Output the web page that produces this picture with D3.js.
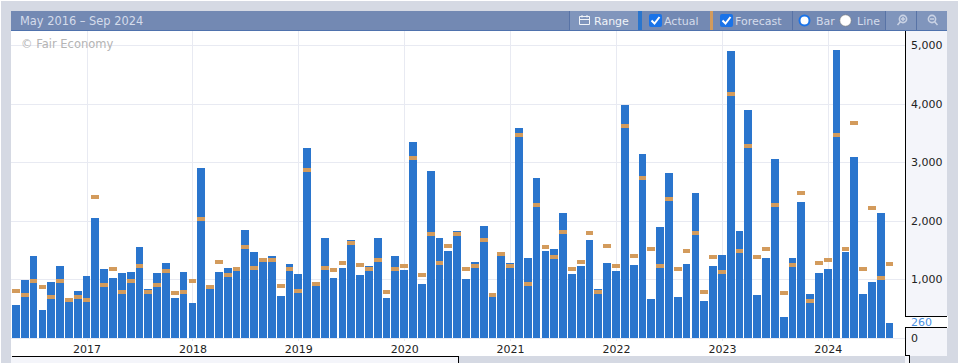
<!DOCTYPE html>
<html>
<head>
<meta charset="utf-8">
<script src="https://cdn.jsdelivr.net/npm/d3@7"></script>
<style>
html,body{margin:0;padding:0;background:#fff;overflow:hidden}
svg{display:block;font-family:"DejaVu Sans",sans-serif}
</style>
</head>
<body>
<script>
const rangeLabel="May 2016 – Sep 2024";
const yTicks=[0,1000,2000,3000,4000,5000];
const yearStarts=[2017,2018,2019,2020,2021,2022,2023,2024];

// May 2016 .. Aug 2024
const actual=[564,990,1400,478,956,1230,615,803,
1059,2050,1178,1025,1110,1127,1554,837,1110,1281,683,1127,
598,2903,837,1127,1196,1144,1845,1469,1298,1400,717,1264,
1093,3245,888,1708,1025,1196,1674,1076,1230,1708,683,1400,
1161,3347,922,2852,1708,1486,1827,1008,1298,1913,700,1400,
1281,3587,1366,2733,1486,1520,2135,1093,1230,1674,837,1281,
1144,3980,1247,3137,660,1890,2812,695,1258,2471,626,1224,
1412,4896,1822,3888,729,1361,3051,353,1361,2317,746,1104,
1173,4913,1463,3086,746,951,2129,260];
const forecast=[803,734,973,871,700,973,649,700,
649,2408,905,1178,786,973,1230,786,905,1144,769,786,
973,2032,871,1298,1076,1178,1554,1196,1332,1332,888,1178,
803,2869,922,1196,1161,1281,1622,1247,1178,1332,786,1178,
1230,3074,1076,1776,1281,1571,1776,1178,1230,1674,734,1435,
1230,3467,922,2271,1554,1383,1810,1178,1298,1793,786,1571,
1230,3621,1400,2727,1514,1224,2368,1173,1480,1788,780,1378,
1122,4162,1480,3274,1378,1514,2266,763,1241,2471,626,1275,
1326,3461,1514,3666,1173,2215,1019,1258];

const months=d3.timeMonth.range(new Date(2016,4,1),new Date(2024,9,1));
const jans=yearStarts.map(y=>new Date(y,0,1));

const W=958,H=363;
const svg=d3.select("body").append("svg").attr("width",W).attr("height",H);

const x=d3.scaleBand().domain(months).range([12,903.3]).paddingInner(0.12).paddingOuter(0.06);
const y=d3.scaleLinear().domain([0,5000]).range([338,45]);

// 背景
svg.append("rect").attr("x",1).attr("y",1).attr("width",W).attr("height",H).attr("fill","#d5d9e3");
svg.append("rect").attr("x",11).attr("y",31).attr("width",894).attr("height",325).attr("fill","#fff");
svg.append("rect").attr("x",905).attr("y",31).attr("width",42).attr("height",325).attr("fill","#f4f5fa");
svg.append("rect").attr("x",11).attr("y",356).attr("width",448).attr("height",7).attr("fill","#f4f5fa");
svg.append("rect").attr("x",905).attr("y",356).attr("width",4).attr("height",7).attr("fill","#f4f5fa");

// 下の枠線
const frame=svg.append("g").attr("fill","none").attr("stroke","#000").attr("shape-rendering","crispEdges");
frame.append("path").attr("d","M11.5,356.5H458.5V363");
frame.append("path").attr("d","M905.5,31V355.5H909.5V363");

// grid + axes
const yAxis=d3.axisRight(y).tickValues(yTicks).tickSize(-894).tickPadding(6).tickFormat(d3.format(","));
const xAxis=d3.axisBottom(x).tickValues(jans).tickSize(-310).tickPadding(4).tickFormat(d3.timeFormat("%Y"));

const gy=svg.append("g").attr("transform","translate(905,0)").call(yAxis);
const gx=svg.append("g").attr("transform","translate(0,341)").call(xAxis);
[gy,gx].forEach(a=>{
  a.select(".domain").remove();
  a.selectAll("line").attr("stroke","#e8eaf2").attr("shape-rendering","crispEdges");
  a.selectAll("text").attr("fill","#222").style("font-size","11px").style("font-family","'DejaVu Sans'");
});

// watermark
svg.append("text").attr("x",21).attr("y",48).attr("fill","#b4b4b4").style("font-size","11.5px").text("© Fair Economy");

// bars
svg.append("g").attr("transform","translate(-0.5,0)").selectAll("rect").data(actual).join("rect")
  .attr("x",(d,i)=>x(months[i]))
  .attr("y",d=>y(d))
  .attr("width",x.bandwidth())
  .attr("height",d=>y(0)-y(d))
  .attr("fill","#2a75cd")
  .attr("shape-rendering","crispEdges");

// forecast marks
svg.append("g").attr("transform","translate(-0.5,0)").selectAll("rect").data(forecast).join("rect")
  .attr("x",(d,i)=>x(months[i]))
  .attr("y",d=>y(d)-2)
  .attr("width",x.bandwidth())
  .attr("height",4)
  .attr("fill","#d39b5c")
  .attr("shape-rendering","crispEdges");

// 最新値ラベル
const last=actual[actual.length-1];
const lg=svg.append("g");
lg.append("rect").attr("x",905).attr("y",316).attr("width",43).attr("height",12).attr("fill","#fff");
lg.append("path").attr("d","M905,316.5H947M905,327.5H947").attr("stroke","#000").attr("shape-rendering","crispEdges");
lg.append("text").attr("x",911).attr("y",y(last)+3.5).attr("fill","#4a90e2").style("font-size","11px").text(last);

// ツールバー
const bar=svg.append("g");
bar.append("rect").attr("x",11).attr("y",11).attr("width",936).attr("height",19).attr("fill","#7389b3");
bar.append("rect").attr("x",11).attr("y",30).attr("width",936).attr("height",1).attr("fill","#4f72ad");
bar.append("rect").attr("x",570).attr("y",11).attr("width",68).attr("height",19).attr("fill","#8095bc");
bar.append("rect").attr("x",886).attr("y",11).attr("width",61).attr("height",19).attr("fill","#8095bc");
[569,792,885,916].forEach(p=>{
  bar.append("rect").attr("x",p).attr("y",11).attr("width",1).attr("height",19).attr("fill","#5873a6");
});
bar.append("rect").attr("x",638).attr("y",11).attr("width",4).attr("height",19).attr("fill","#2a75cd");
bar.append("rect").attr("x",710).attr("y",11).attr("width",3).attr("height",19).attr("fill","#d39b5c");

function label(s,px,col,fs){
  bar.append("text").attr("x",px).attr("y",25).attr("fill",col).style("font-size",fs||"11px").text(s);
}
label(rangeLabel,20,"#d5dceb","11.4px");
label("Range",594,"#f0f3f8");
label("Actual",664,"#d5dceb");
label("Forecast",735,"#d5dceb");
label("Bar",816,"#d5dceb");
label("Line",857,"#d5dceb");

// calendar icon
bar.append("path").attr("d","M579.5,16.5h10v8h-10zM579.5,19.5h10M582,15v2.5M587,15v2.5")
  .attr("fill","none").attr("stroke","#f0f3f8").attr("stroke-width",1);

// check boxes
[649,720].forEach(p=>{
  bar.append("rect").attr("x",p).attr("y",14).attr("width",13).attr("height",13).attr("rx",2).attr("fill","#1a73e8");
  bar.append("path").attr("d",`M${p+2.5},20.5l3,3l5,-6.5`).attr("fill","none").attr("stroke","#fff").attr("stroke-width",2);
});

// radios
bar.append("circle").attr("cx",804.5).attr("cy",20.5).attr("r",5).attr("fill","#fff").attr("stroke","#1a73e8").attr("stroke-width",2);
bar.append("circle").attr("cx",845.5).attr("cy",20.5).attr("r",5.7).attr("fill","#fff").attr("stroke","#777").attr("stroke-width",0.6);

// zoom icons
bar.append("circle").attr("cx",903).attr("cy",19).attr("r",3.6).attr("fill","none").attr("stroke","#c9d2e4").attr("stroke-width",1.6);
bar.append("path").attr("d","M900.5,21.5l-3,3.5M901,19h4M903,17v4").attr("fill","none").attr("stroke","#c9d2e4").attr("stroke-width",1.5);
bar.append("circle").attr("cx",932).attr("cy",19).attr("r",3.6).attr("fill","none").attr("stroke","#c9d2e4").attr("stroke-width",1.6);
bar.append("path").attr("d","M934.5,21.5l3,3.5M930,19h4").attr("fill","none").attr("stroke","#c9d2e4").attr("stroke-width",1.5);
</script>
</body>
</html>
